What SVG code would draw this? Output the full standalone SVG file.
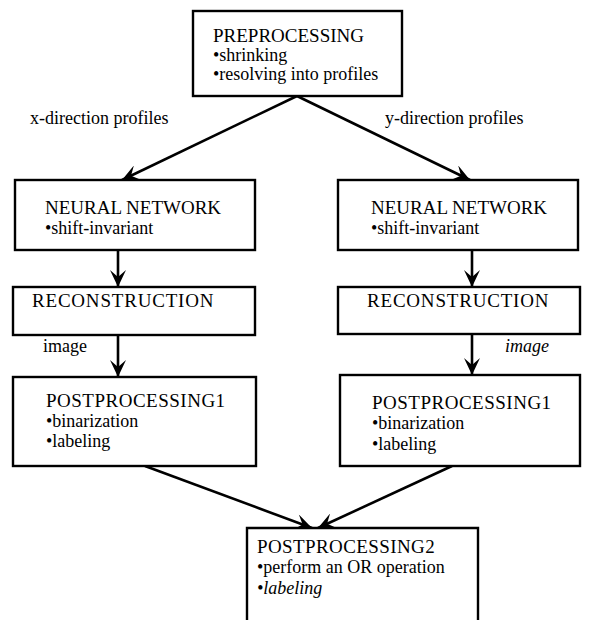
<svg xmlns="http://www.w3.org/2000/svg" width="594" height="620" viewBox="0 0 594 620">
  <style>
    .box { fill: #fff; stroke: #000; stroke-width: 2.4; }
    .t { font-family: "Liberation Serif", "Times New Roman", serif; font-size: 18px; fill: #000; }
    .h { font-size: 19px; }
    .it { font-style: italic; }
    .edge { stroke: #000; stroke-width: 2.6; fill: none; marker-end: url(#head); }
  </style>
  <defs>
    <marker id="head" markerWidth="20" markerHeight="16" refX="18" refY="8" orient="auto" markerUnits="userSpaceOnUse">
      <path d="M18,8 L1,0 L8,8 L1,16 Z" fill="#000"/>
    </marker>
  </defs>
  <rect width="594" height="620" fill="#fff"/>

  <g id="connectors">
    <line class="edge" x1="297" y1="96" x2="122" y2="180"/>
    <line class="edge" x1="297" y1="96" x2="470" y2="180"/>
    <line class="edge" x1="118" y1="250" x2="118" y2="287"/>
    <line class="edge" x1="472" y1="250" x2="472" y2="287"/>
    <line class="edge" x1="118" y1="335" x2="118" y2="377"/>
    <line class="edge" x1="472" y1="334" x2="472" y2="375"/>
    <line class="edge" x1="145" y1="466" x2="312" y2="528"/>
    <line class="edge" x1="452" y1="466" x2="318" y2="528"/>
  </g>

  <g id="edge-labels">
    <text class="t" x="30" y="124">x-direction profiles</text>
    <text class="t" x="385" y="124">y-direction profiles</text>
    <text class="t" x="43" y="352">image</text>
    <text class="t it" x="505" y="352">image</text>
  </g>

  <g id="preprocessing">
    <rect class="box" x="193" y="11" width="209" height="85"/>
    <text class="t h" x="213" y="42">PREPROCESSING</text>
    <text class="t" x="213" y="61">•shrinking</text>
    <text class="t" x="213" y="80">•resolving into profiles</text>
  </g>

  <g id="nn-x">
    <rect class="box" x="15" y="180" width="240" height="70"/>
    <text class="t h" x="45" y="214">NEURAL NETWORK</text>
    <text class="t" x="45" y="234">•shift-invariant</text>
  </g>

  <g id="nn-y">
    <rect class="box" x="338" y="180" width="240" height="70"/>
    <text class="t h" x="371" y="214">NEURAL NETWORK</text>
    <text class="t" x="371" y="234">•shift-invariant</text>
  </g>

  <g id="recon-x">
    <rect class="box" x="13" y="287" width="242" height="48"/>
    <text class="t h" x="32" y="307" letter-spacing="0.8">RECONSTRUCTION</text>
  </g>

  <g id="recon-y">
    <rect class="box" x="338" y="287" width="242" height="47"/>
    <text class="t h" x="367" y="307" letter-spacing="0.8">RECONSTRUCTION</text>
  </g>

  <g id="post1-x">
    <rect class="box" x="13" y="377" width="243" height="89"/>
    <text class="t h" x="46" y="407" letter-spacing="0.5">POSTPROCESSING1</text>
    <text class="t" x="46" y="427">•binarization</text>
    <text class="t" x="46" y="447">•labeling</text>
  </g>

  <g id="post1-y">
    <rect class="box" x="340" y="375" width="240" height="91"/>
    <text class="t h" x="372" y="409" letter-spacing="0.5">POSTPROCESSING1</text>
    <text class="t" x="372" y="429">•binarization</text>
    <text class="t" x="372" y="450">•labeling</text>
  </g>

  <g id="post2">
    <path class="box" d="M247,622 V528 H478 V622"/>
    <text class="t h" x="257" y="553" letter-spacing="0.4">POSTPROCESSING2</text>
    <text class="t" x="257" y="573">•perform an OR operation</text>
    <text class="t it" x="257" y="594">•labeling</text>
  </g>
</svg>
